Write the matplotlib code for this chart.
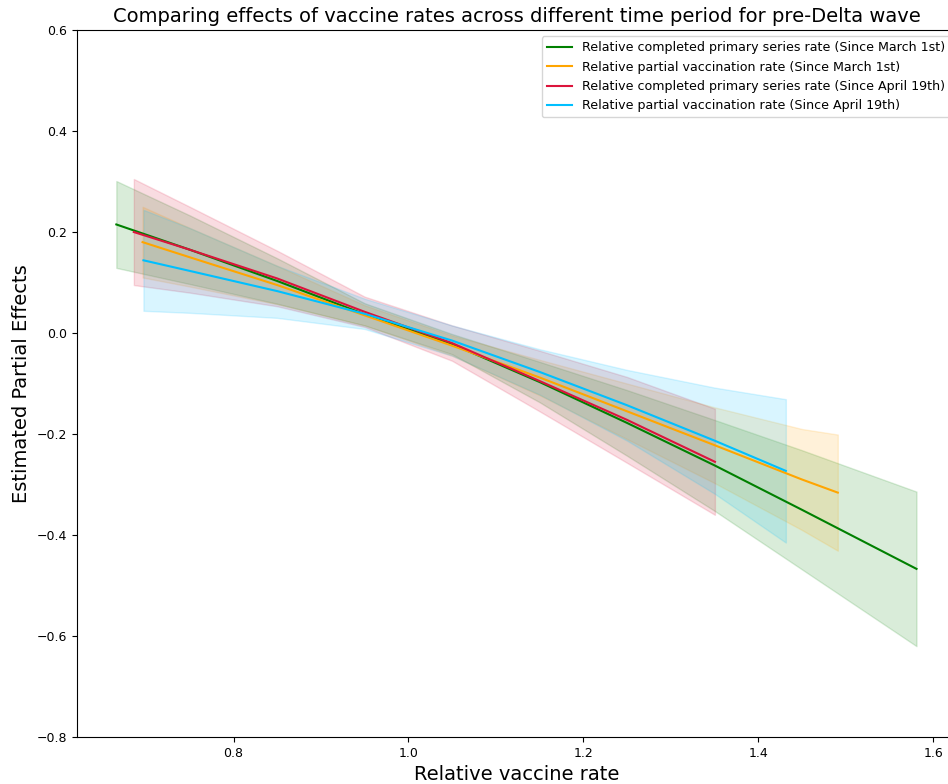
import matplotlib
matplotlib.use("Agg")
from matplotlib import pyplot as plt

# completed primary series rate, since March 1st
x_comp_mar = [0.666, 0.75, 0.85, 0.95, 1.05, 1.15, 1.25, 1.35, 1.45, 1.581]
y_comp_mar = [0.215, 0.165, 0.103, 0.037, -0.022, -0.097, -0.178, -0.262, -0.350, -0.467]
lo_comp_mar = [0.129, 0.097, 0.058, 0.015, -0.042, -0.137, -0.243, -0.352, -0.468, -0.620]
hi_comp_mar = [0.301, 0.233, 0.148, 0.059, -0.002, -0.057, -0.113, -0.172, -0.232, -0.314]

# partial vaccination rate, since March 1st
x_part_mar = [0.696, 0.75, 0.85, 0.95, 1.05, 1.15, 1.25, 1.35, 1.45, 1.491]
y_part_mar = [0.180, 0.150, 0.095, 0.035, -0.025, -0.088, -0.155, -0.222, -0.290, -0.316]
lo_part_mar = [0.110, 0.092, 0.057, 0.015, -0.045, -0.123, -0.210, -0.297, -0.390, -0.431]
hi_part_mar = [0.250, 0.208, 0.133, 0.055, -0.005, -0.053, -0.100, -0.147, -0.190, -0.201]

# completed primary series rate, since April 19th
x_comp_apr = [0.686, 0.75, 0.85, 0.95, 1.05, 1.15, 1.25, 1.3505]
y_comp_apr = [0.200, 0.165, 0.108, 0.042, -0.020, -0.095, -0.172, -0.255]
lo_comp_apr = [0.095, 0.080, 0.053, 0.012, -0.055, -0.155, -0.257, -0.360]
hi_comp_apr = [0.305, 0.250, 0.163, 0.072, 0.015, -0.035, -0.087, -0.150]

# partial vaccination rate, since April 19th
x_part_apr = [0.697, 0.75, 0.85, 0.95, 1.05, 1.15, 1.25, 1.35, 1.4316]
y_part_apr = [0.144, 0.123, 0.083, 0.038, -0.015, -0.077, -0.143, -0.213, -0.273]
lo_part_apr = [0.044, 0.040, 0.030, 0.008, -0.045, -0.122, -0.213, -0.318, -0.415]
hi_part_apr = [0.244, 0.208, 0.133, 0.068, 0.015, -0.032, -0.073, -0.108, -0.131]

series = [
    (x_comp_mar, y_comp_mar, lo_comp_mar, hi_comp_mar, "green",
     "Relative completed primary series rate (Since March 1st)"),
    (x_part_mar, y_part_mar, lo_part_mar, hi_part_mar, "orange",
     "Relative partial vaccination rate (Since March 1st)"),
    (x_comp_apr, y_comp_apr, lo_comp_apr, hi_comp_apr, "crimson",
     "Relative completed primary series rate (Since April 19th)"),
    (x_part_apr, y_part_apr, lo_part_apr, hi_part_apr, "deepskyblue",
     "Relative partial vaccination rate (Since April 19th)"),
]

fig = plt.figure(figsize=(9.48, 7.84), dpi=100)
# axes run slightly past the right edge, as in the cropped original
ax = fig.add_axes([0.0812, 0.0599, 0.928, 0.9018])

for x, y, lo, hi, color, label in series:
    ax.plot(x, y, color=color, lw=1.5, label=label)
    ax.fill_between(x, lo, hi, color=color, alpha=0.15)

ax.set_xlim(0.621, 1.627)
ax.set_ylim(-0.8, 0.6)
ax.tick_params(labelsize=9)
ax.set_xlabel("Relative vaccine rate", fontsize=14)
ax.set_ylabel("Estimated Partial Effects", fontsize=14)
ax.set_title("Comparing effects of vaccine rates across different time period for pre-Delta wave",
             fontsize=14)
ax.legend(loc="upper right", fontsize=9.1)

plt.savefig("out.png", dpi=100)
